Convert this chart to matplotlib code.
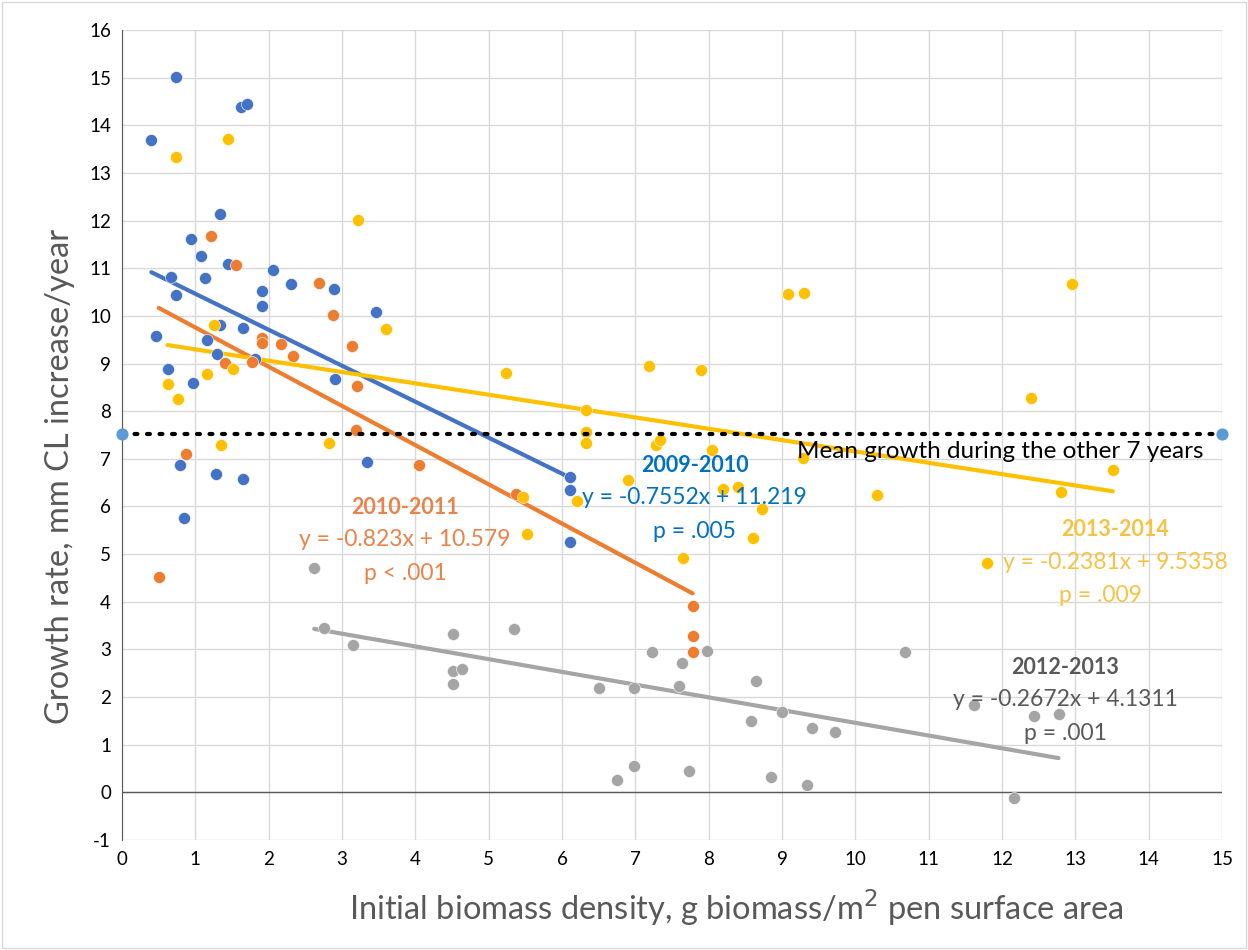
import matplotlib
matplotlib.use("Agg")
import matplotlib.pyplot as plt
import numpy as np

plt.rcParams['font.family'] = ['Lato', 'DejaVu Sans']
plt.rcParams['axes.unicode_minus'] = False

# 2009-2010 (blue)
x_0910 = [0.40, 0.74, 1.62, 1.70, 1.34, 0.94, 1.08, 1.45, 1.13, 0.67, 0.74, 2.06, 2.30,
          1.91, 2.89, 1.91, 3.46, 0.46, 1.34, 1.65, 1.16, 1.30, 1.81, 0.63, 0.97, 2.90,
          0.79, 0.85, 1.28, 1.65, 3.34, 6.11, 6.11, 6.11]
y_0910 = [13.69, 15.01, 14.38, 14.45, 12.14, 11.62, 11.26, 11.09, 10.80, 10.82, 10.44, 10.97, 10.67,
          10.53, 10.57, 10.21, 10.09, 9.58, 9.80, 9.75, 9.50, 9.21, 9.10, 8.89, 8.60, 8.68,
          6.86, 5.76, 6.69, 6.58, 6.94, 6.62, 6.34, 5.26]

# 2010-2011 (orange)
x_1011 = [1.21, 1.56, 2.68, 2.88, 3.14, 1.91, 1.91, 2.17, 2.33, 1.40, 1.77, 3.20, 3.19,
          4.05, 0.87, 0.50, 5.37, 7.78, 7.78, 7.78]
y_1011 = [11.67, 11.06, 10.70, 10.02, 9.36, 9.53, 9.44, 9.41, 9.15, 9.01, 9.03, 8.53, 7.61,
          6.88, 7.10, 4.52, 6.27, 3.91, 3.29, 2.94]

# 2012-2013 (gray)
x_1213 = [2.62, 2.75, 3.15, 4.51, 4.51, 4.64, 4.51, 5.35, 6.51, 6.98, 6.75, 6.98, 7.22,
          7.64, 7.59, 7.73, 7.97, 8.57, 8.65, 9.00, 8.85, 9.34, 9.41, 9.72, 10.67, 11.62,
          12.44, 12.77, 12.16]
y_1213 = [4.70, 3.45, 3.09, 3.33, 2.55, 2.58, 2.28, 3.43, 2.20, 2.20, 0.25, 0.56, 2.95,
          2.72, 2.24, 0.44, 2.97, 1.49, 2.33, 1.68, 0.32, 0.15, 1.35, 1.26, 2.94, 1.83,
          1.61, 1.64, -0.12]

# 2013-2014 (yellow)
x_1314 = [0.74, 1.45, 3.22, 3.60, 1.25, 0.62, 0.76, 1.16, 1.51, 1.35, 2.82, 5.24, 7.19,
          7.90, 6.33, 6.33, 6.33, 7.28, 7.34, 8.04, 6.90, 9.29, 5.47, 6.21, 5.52, 8.20,
          8.40, 8.72, 8.60, 7.65, 9.08, 9.30, 12.96, 12.40, 10.29, 12.80, 13.51, 11.80]
y_1314 = [13.33, 13.71, 12.01, 9.72, 9.81, 8.58, 8.26, 8.79, 8.88, 7.28, 7.33, 8.81, 8.95,
          8.86, 8.03, 7.56, 7.33, 7.30, 7.40, 7.19, 6.56, 7.02, 6.19, 6.12, 5.42, 6.37,
          6.40, 5.95, 5.33, 4.92, 10.45, 10.49, 10.66, 8.28, 6.24, 6.30, 6.77, 4.82]

mean_other = 7.53

series = [
    ("2009-2010", x_0910, y_0910, '#4472C4', -0.7552, 11.219, "p = .005", '#0070C0'),
    ("2010-2011", x_1011, y_1011, '#ED7D31', -0.823, 10.579, "p < .001", '#E9834A'),
    ("2012-2013", x_1213, y_1213, '#A5A5A5', -0.2672, 4.1311, "p = .001", '#595959'),
    ("2013-2014", x_1314, y_1314, '#FFC000', -0.2381, 9.5358, "p = .009", '#F7C244'),
]
label_pos = {
    "2009-2010": (7.81, 6.86),
    "2010-2011": (3.86, 5.98),
    "2012-2013": (12.86, 2.62),
    "2013-2014": (13.54, 5.51),
}

fig = plt.figure(figsize=(12.48, 9.5), dpi=100)
ax = fig.add_axes([0.0978, 0.1158, 0.8814, 0.8526])

ax.set_xlim(0, 15)
ax.set_ylim(-1, 16)
ax.set_xticks(range(0, 16))
ax.set_yticks(range(-1, 17))
ax.grid(True, color='#D9D9D9', linewidth=1)
ax.set_axisbelow(True)
for s in ['top', 'right', 'bottom']:
    ax.spines[s].set_visible(False)
ax.spines['left'].set_color('#595959')
ax.axhline(0, color='#595959', linewidth=1, zorder=1)
ax.tick_params(length=0, labelsize=13.5, pad=8)

for name, xs, ys, col, m, b, ptxt, tcol in series:
    xs = np.array(xs)
    xl = np.array([xs.min(), xs.max()])
    ax.plot(xl, m * xl + b, color=col, linewidth=3, zorder=2, solid_capstyle='round')
    ax.scatter(xs, ys, s=75, color=col, edgecolors='white', linewidths=0.4, zorder=3)
    lx, ly = label_pos[name]
    ax.text(lx, ly, name, color=tcol, fontsize=15.5, fontweight='bold', ha='center', va='center', zorder=5)
    eq = f"y = {m}x + {b}"
    ax.text(lx, ly - 0.68, eq, color=tcol, fontsize=16.5, ha='center', va='center', zorder=5)
    ax.text(lx - (0.2 if name == "2013-2014" else 0), ly - 1.38, ptxt, color=tcol, fontsize=16.5,
            ha='center', va='center', zorder=5)

# mean growth during the other years
ax.plot([0, 15], [mean_other, mean_other], color='black', linestyle=(0, (0.7, 2.3)),
        linewidth=3, dash_capstyle='round', zorder=4, clip_on=False)
ax.scatter([0, 15], [mean_other, mean_other], s=60, color='#5B9BD5', zorder=5, clip_on=False)
ax.text(9.2, 7.15, "Mean growth during the other 7 years", fontsize=17.5, color='black',
        ha='left', va='center', zorder=5)

ax.set_xlabel("Initial biomass density, g biomass/m$^2$ pen surface area", fontsize=23.5,
              color='#595959', labelpad=14, x=0.558)
ax.set_ylabel("Growth rate, mm CL increase/year", fontsize=23.5, color='#595959', labelpad=10, y=0.449)

fig.patches.append(plt.Rectangle((0.002, 0.002), 0.996, 0.996, transform=fig.transFigure,
                                 fill=False, edgecolor='#D9D9D9', linewidth=1))

fig.savefig("out.png", dpi=100)
